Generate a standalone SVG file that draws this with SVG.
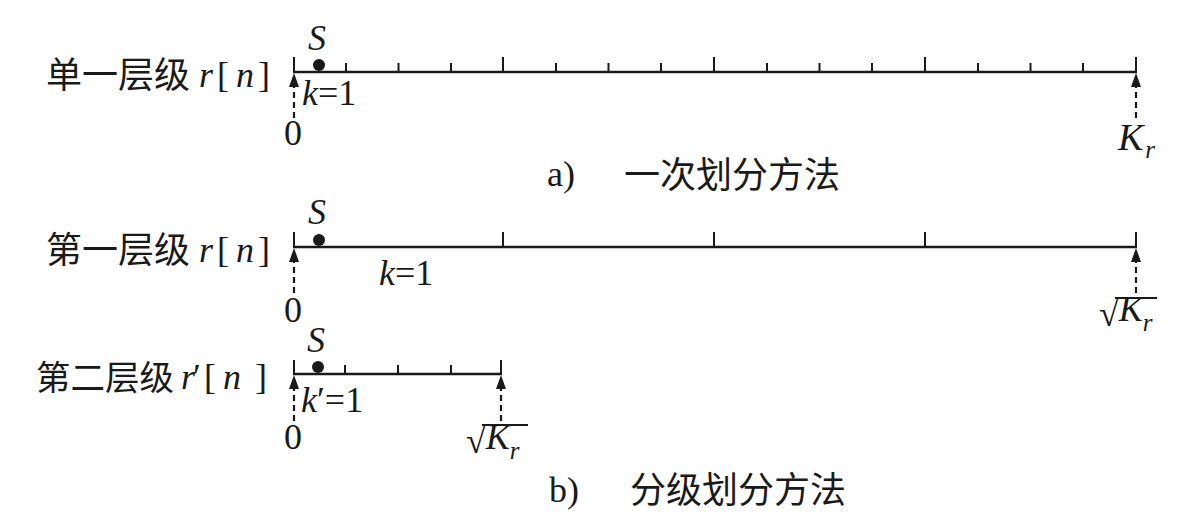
<svg xmlns="http://www.w3.org/2000/svg" width="1200" height="525" viewBox="0 0 1200 525">
<style>
.axis{stroke:#1a1a1a;stroke-width:2.5;fill:none}
.tick{stroke:#1a1a1a;stroke-width:2;fill:none}
.dash{stroke:#1a1a1a;stroke-width:2.2;stroke-dasharray:6 4;fill:none}
.cjk{font-family:"Noto Sans CJK SC","Noto Sans",sans-serif;font-size:36px;fill:#1a1a1a}
.m{font-family:"Liberation Serif","Times New Roman",serif;font-size:36px;fill:#1a1a1a}
.i{font-style:italic}
.sub{font-size:25px}
.dot{fill:#1a1a1a}
.ah{fill:#1a1a1a}
</style>
<rect width="1200" height="525" fill="#ffffff"/>

<g id="row-a">
<text class="cjk" x="46" y="88">单一层级</text>
<text class="m" y="87"><tspan class="i" x="199">r</tspan><tspan x="217">[</tspan><tspan class="i" x="236">n</tspan><tspan x="258">]</tspan></text>
<line class="axis" x1="293" y1="72" x2="1137" y2="72"/>
<path class="tick" d="M294,57V72 M346,63V72 M398.5,63V72 M451,63V72 M503,57V72 M556,63V72 M608.5,63V72 M661,63V72 M714,57V72 M767,63V72 M819.5,63V72 M872,63V72 M925,57V72 M978,63V72 M1030.5,63V72 M1083,63V72 M1136,57V72"/>
<circle class="dot" cx="319" cy="65" r="6"/>
<text class="m i" x="308" y="50">S</text>
<text class="m" y="105"><tspan class="i" x="302">k</tspan><tspan>=1</tspan></text>
<text class="m" x="284" y="145">0</text>
<text class="m" y="150"><tspan class="i" x="1118" style="font-size:38px">K</tspan><tspan class="i sub" dx="2" y="158">r</tspan></text>
</g>

<g id="caption-a">
<text class="m" x="547" y="186">a)</text>
<text class="cjk" x="624" y="188">一次划分方法</text>
</g>

<g id="row-b1">
<text class="cjk" x="46" y="263">第一层级</text>
<text class="m" y="262"><tspan class="i" x="199">r</tspan><tspan x="217">[</tspan><tspan class="i" x="236">n</tspan><tspan x="258">]</tspan></text>
<line class="axis" x1="293" y1="247" x2="1137" y2="247"/>
<path class="tick" d="M294,232V247 M503,232V247 M714,232V247 M925,232V247 M1136,232V247"/>
<circle class="dot" cx="319" cy="240" r="6"/>
<text class="m i" x="308" y="224">S</text>
<text class="m" y="285"><tspan class="i" x="379">k</tspan><tspan>=1</tspan></text>
<text class="m" x="284" y="322">0</text>
<line class="tick" x1="1115" y1="298" x2="1157" y2="298"/>
<text class="m"><tspan x="1099" y="326">√</tspan><tspan class="i" y="321">K</tspan><tspan class="i sub" y="331">r</tspan></text>
</g>

<g id="row-b2">
<text class="cjk" x="36" y="390" style="font-size:34.5px">第二层级</text>
<text class="m" y="389"><tspan class="i" x="181">r</tspan><tspan x="193">′</tspan><tspan x="204">[</tspan><tspan class="i" x="223">n</tspan><tspan x="255">]</tspan></text>
<line class="axis" x1="293" y1="374" x2="502" y2="374"/>
<path class="tick" d="M294,360V374 M345,365V374 M398,365V374 M451,365V374 M501,360V374"/>
<circle class="dot" cx="318" cy="367" r="6"/>
<text class="m i" x="307" y="352">S</text>
<text class="m" y="412"><tspan class="i" x="301">k</tspan><tspan>′=1</tspan></text>
<text class="m" x="284" y="449">0</text>
<line class="tick" x1="482" y1="425" x2="528" y2="425"/>
<text class="m"><tspan x="466" y="453">√</tspan><tspan class="i" y="449">K</tspan><tspan class="i sub" y="459">r</tspan></text>
</g>

<g id="caption-b">
<text class="m" x="549" y="502">b)</text>
<text class="cjk" x="630" y="503">分级划分方法</text>
</g>

<g id="connectors">
<line class="dash" x1="294" y1="118" x2="294" y2="86"/>
<path class="ah" d="M294,73 L289,87 L299,87 Z"/>
<line class="dash" x1="1136" y1="118" x2="1136" y2="86"/>
<path class="ah" d="M1136,73 L1131,87 L1141,87 Z"/>
<line class="dash" x1="294" y1="293" x2="294" y2="261"/>
<path class="ah" d="M294,248 L289,262 L299,262 Z"/>
<line class="dash" x1="1136" y1="293" x2="1136" y2="261"/>
<path class="ah" d="M1136,248 L1131,262 L1141,262 Z"/>
<line class="dash" x1="294" y1="421" x2="294" y2="389"/>
<path class="ah" d="M294,375 L289,389 L299,389 Z"/>
<line class="dash" x1="501" y1="421" x2="501" y2="389"/>
<path class="ah" d="M501,375 L496,389 L506,389 Z"/>
</g>
</svg>
